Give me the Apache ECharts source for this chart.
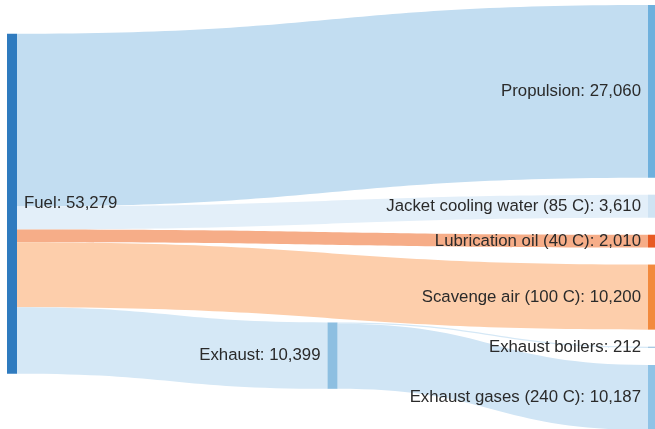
<!DOCTYPE html>
<html>
<head>
<meta charset="utf-8">
<script src="https://cdn.jsdelivr.net/npm/echarts@6/dist/echarts.min.js"></script>
<style>
  html, body { margin: 0; padding: 0; background: #fff; }
  #drawImg { width: 655px; height: 429px; }
</style>
</head>
<body>
<div id="drawImg"></div>
<script>
// 节点
var nodeNames = ["Fuel", "Propulsion", "Jacket cooling water (85 C)", "Lubrication oil (40 C)",
  "Scavenge air (100 C)", "Exhaust", "Exhaust boilers", "Exhaust gases (240 C)"];
var nodeColors = ["#2f7bbf", "#6eb0dd", "#cfe3f3", "#e85a22", "#f28a3d", "#8dbfe1", "#a9c9e2", "#8fc3e6"];

// 流向
var linkSource = ["Fuel", "Fuel", "Fuel", "Fuel", "Fuel", "Exhaust", "Exhaust"];
var linkTarget = ["Propulsion", "Jacket cooling water (85 C)", "Lubrication oil (40 C)", "Scavenge air (100 C)",
  "Exhaust", "Exhaust boilers", "Exhaust gases (240 C)"];
var linkValues = [27060, 3610, 2010, 10200, 10399, 212, 10187];
var linkColors = ["#c2ddf1", "#e3eff9", "#f6ad88", "#fdceab", "#d5e8f6", "#d5e8f6", "#d0e5f5"];

// 布局参数
var layoutLeft = 7, layoutTop = 5, layoutW = 651, layoutH = 408;
var nodeW = 10, gap = 17;
var exBlend = 0.27; // Exhaust 偏向流入带的程度

//流入值
function inValue(name) {
  var s = 0;
  linkTarget.forEach(function (t, i) { if (t == name) s += linkValues[i]; });
  return s;
}
function outLinks(name) {
  var arr = [];
  linkSource.forEach(function (s, i) { if (s == name) arr.push(i); });
  return arr;
}

// 右侧终点节点按顺序堆叠，算出各自中心
var fuelTotal = 0;
outLinks("Fuel").forEach(function (i) { fuelTotal += linkValues[i]; });
var ky = (layoutH - 4 * gap) / fuelTotal;
var sinks = nodeNames.filter(function (n) { return outLinks(n).length == 0; });
var stackTop = {};
var yy = 0;
sinks.forEach(function (n) {
  stackTop[n] = yy;
  yy += inValue(n) * ky + gap;
});
function sinkCenter(n) { return stackTop[n] + inValue(n) * ky / 2; }

// Exhaust 目标加权中心
var exOut = outLinks("Exhaust");
var exTargetCenter = 0;
exOut.forEach(function (i) { exTargetCenter += sinkCenter(linkTarget[i]) * linkValues[i]; });
exTargetCenter = exTargetCenter / inValue("Exhaust");

// Fuel 放在其目标的加权中心
var fuelCenter = 0;
outLinks("Fuel").forEach(function (i) {
  var t = linkTarget[i];
  var c = t == "Exhaust" ? exTargetCenter : sinkCenter(t);
  fuelCenter += c * linkValues[i];
});
fuelCenter = fuelCenter / fuelTotal;
var fuelTop = fuelCenter - fuelTotal * ky / 2;

// Exhaust 放在流入带与流出目标之间
var exH = inValue("Exhaust") * ky;
var exBandCenter = fuelTop + fuelTotal * ky - exH / 2;
var exTop = exBandCenter + (exTargetCenter - exBandCenter) * exBlend - exH / 2;

var nodes = nodeNames.map(function (name, i) {
  var obj = { name: name, itemStyle: { color: nodeColors[i] }, label: { position: "left" } };
  if (name == "Fuel") {
    obj.label = { position: "right" };
    obj.localY = fuelTop / layoutH;
  } else if (name == "Exhaust") {
    obj.localY = exTop / layoutH;
  } else if (linkSource[linkTarget.indexOf(name)] == "Fuel") {
    // 与 Exhaust 同层的终点节点移到最右侧
    obj.localX = (layoutW - nodeW) / layoutW;
  } else {
    obj.localY = stackTop[name] / layoutH;
  }
  return obj;
});

var links = linkSource.map(function (s, i) {
  return {
    source: s,
    target: linkTarget[i],
    value: linkValues[i],
    lineStyle: { color: linkColors[i], opacity: 1 }
  };
});

var option = {
  animation: false,
  series: [{
    type: "sankey",
    left: layoutLeft,
    top: layoutTop,
    width: layoutW,
    height: layoutH,
    nodeWidth: nodeW,
    nodeGap: gap,
    nodeAlign: "left",
    layoutIterations: 0,
    draggable: false,
    emphasis: { disabled: true },
    data: nodes,
    links: links,
    itemStyle: { borderWidth: 0 },
    lineStyle: { curveness: 0.5 },
    label: {
      fontSize: 16.8,
      color: "#2a2a2a",
      fontFamily: "Liberation Sans",
      distance: 7,
      formatter: function (p) {
        return p.name + ": " + p.value.toLocaleString("en-US");
      }
    }
  }]
};

var getchart = echarts.init(document.getElementById("drawImg"));
getchart.setOption(option);
</script>
</body>
</html>
